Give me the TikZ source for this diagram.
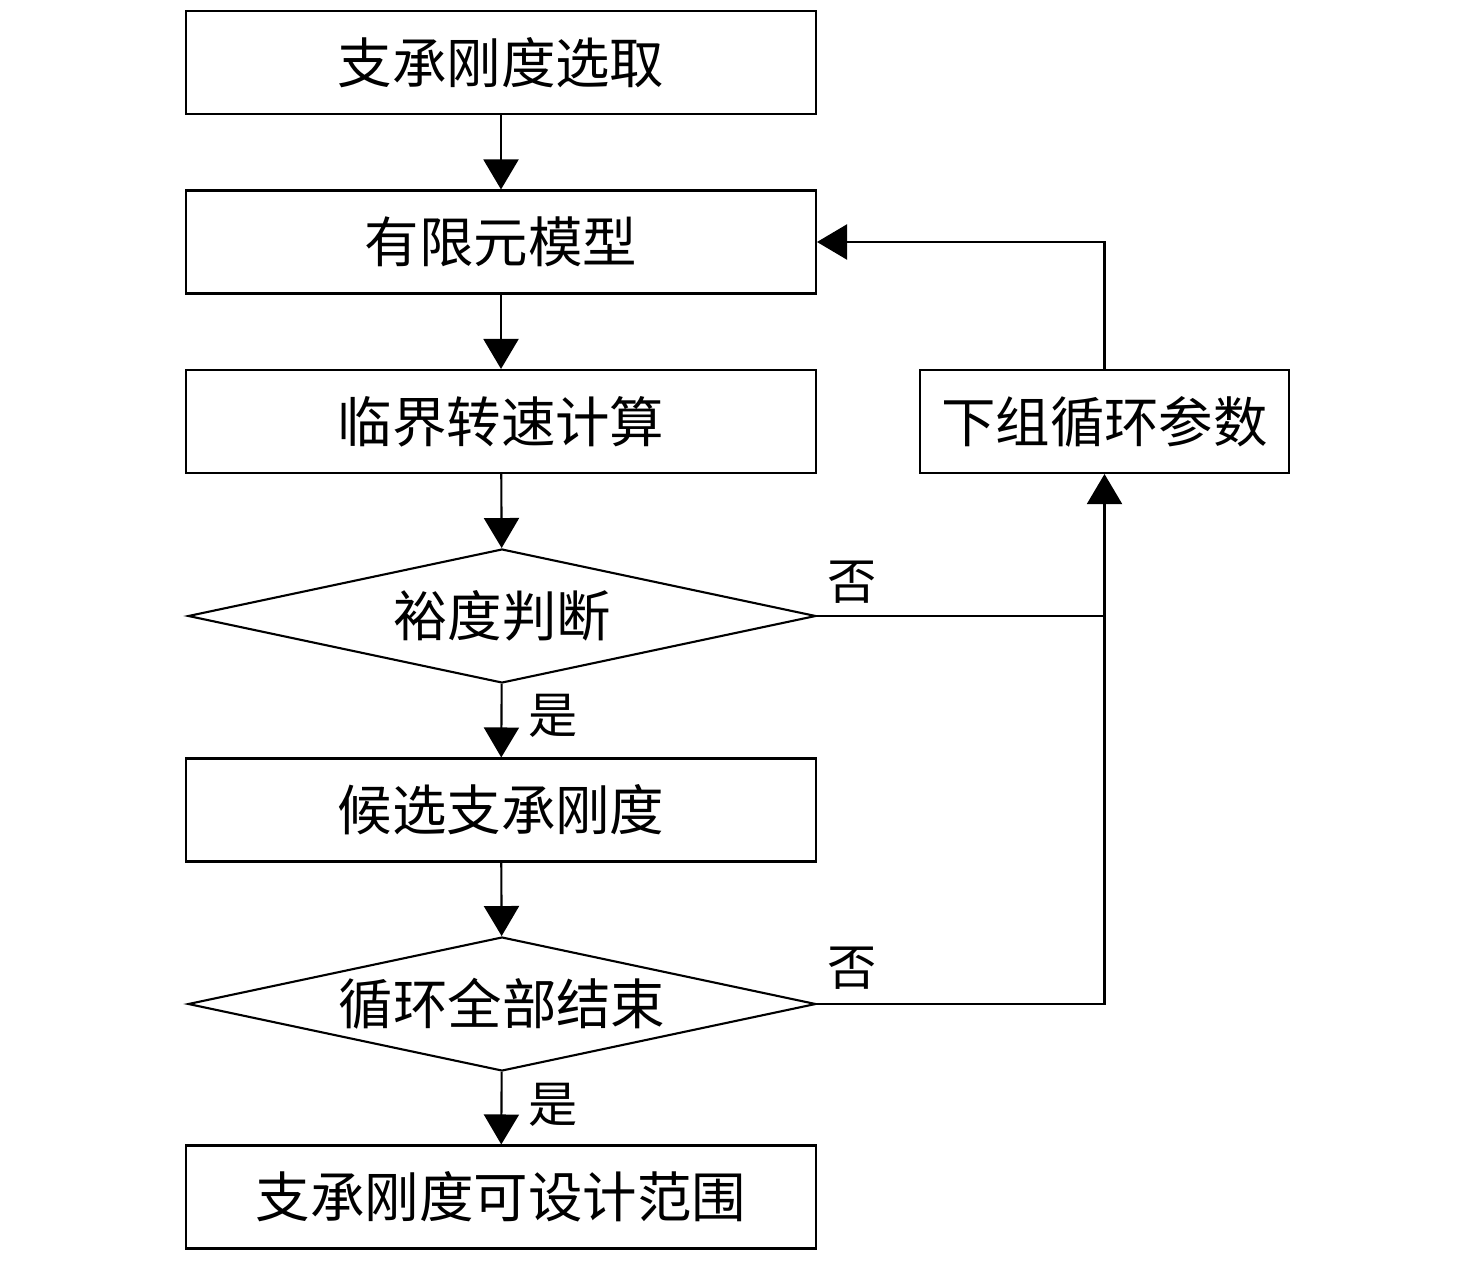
\documentclass[tikz,border=0pt]{standalone}
\usepackage{fontspec}
\newfontfamily\cjk{Noto Sans CJK SC}
\usetikzlibrary{arrows.meta,shapes.geometric}

\tikzset{
  box/.style={draw,line width=1.2pt,minimum width=12.6cm,minimum height=2.06cm,inner sep=0pt,font=\cjk\fontsize{31}{31}\selectfont},
  smallbox/.style={box,minimum width=7.38cm},
  check/.style={draw,diamond,line width=1.2pt,aspect=4.7,inner sep=0pt,minimum width=12.56cm,minimum height=2.68cm,font=\cjk\fontsize{31}{31}\selectfont},
  flow/.style={line width=1.2pt,-{Triangle[length=0.6cm,width=0.7cm]}},
  answer/.style={font=\cjk\fontsize{28}{28}\selectfont}
}

\begin{document}
\begin{tikzpicture}[x=0.02cm,y=-0.02cm]
\useasboundingbox (0,0) rectangle (1476,1260);

\node[box] (pick) at (501,62.5) {支承刚度选取};
\node[box] (fem) at (501,242) {有限元模型};
\node[box] (speed) at (501,421.5) {临界转速计算};
\node[check] (margin) at (502,616) {裕度判断};
\node[box] (cand) at (501,810) {候选支承刚度};
\node[check] (done) at (502,1004) {循环全部结束};
\node[box] (range) at (501,1197) {支承刚度可设计范围};
\node[smallbox] (next) at (1104.5,421.5) {下组循环参数};

% main column
\draw[flow] (pick) -- (fem);
\draw[flow] (fem) -- (speed);
\draw[flow] (speed) -- (margin);
\draw[flow] (margin) -- (cand);
\draw[flow] (cand) -- (done);
\draw[flow] (done) -- (range);

% loop back
\coordinate (j1) at (1104.5,616);
\draw[line width=1.2pt] (margin.east) -- (j1);
\draw[line width=1.2pt] (done.east) -| (j1);
\draw[flow] (j1) -- (next);
\draw[flow] (next.north) |- (fem.east);

\node[answer] (no1) at (852,582) {否};
\node[answer] (no2) at (852,968) {否};
\node[answer] (yes1) at (553,716) {是};
\node[answer] (yes2) at (553,1105) {是};
\end{tikzpicture}
\end{document}
